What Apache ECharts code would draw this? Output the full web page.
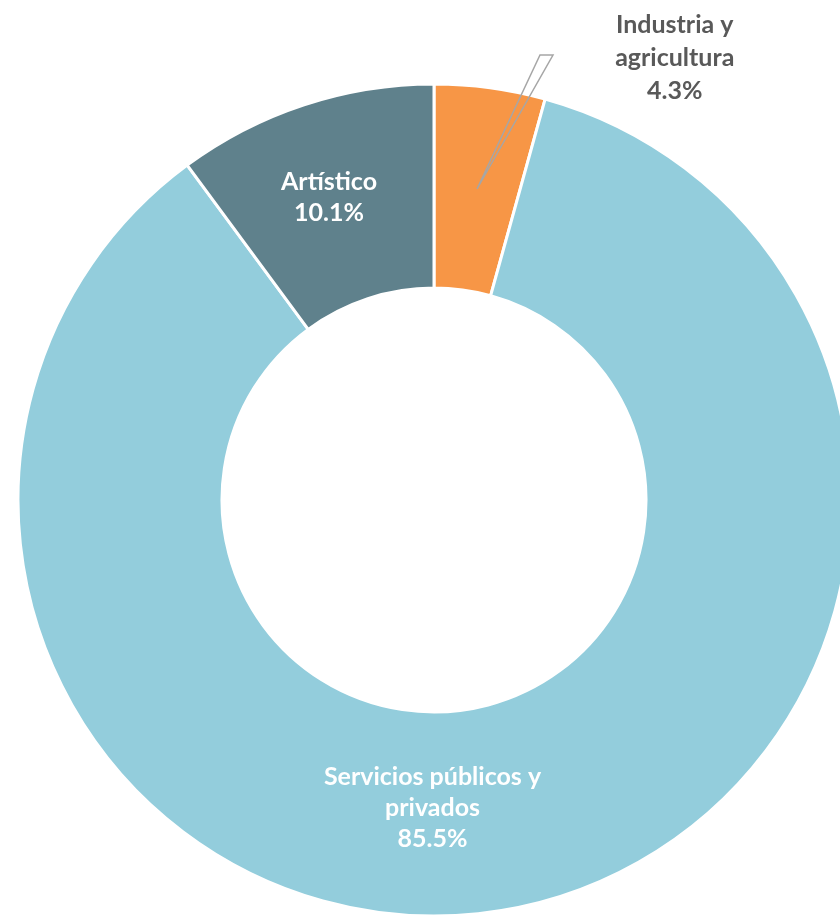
<!DOCTYPE html>
<html>
<head>
<meta charset="utf-8">
<script src="https://cdn.jsdelivr.net/npm/echarts@6/dist/echarts.min.js"></script>
<style>
  html, body { margin: 0; padding: 0; background: #fff; }
  #chart { width: 840px; height: 915px; }
</style>
</head>
<body>
<div id="chart"></div>
<script>
const categories = ['Industria y\nagricultura', 'Servicios públicos y\nprivados', 'Artístico'];
const shares = [4.3, 85.5, 10.1];
const sliceColors = ['#F79646', '#93CDDC', '#5F818C'];

const chart = echarts.init(document.getElementById('chart'), null, { renderer: 'canvas' });

// label tweaks per slice (Excel placed these by hand)
const labelTweaks = [
  { color: '#595959', offset: [198, -128], lineHeight: 33 },
  { color: '#ffffff', offset: [-59, -4] },
  { color: '#ffffff', offset: [-6, -1] },
];

const option = {
  animation: false,
  backgroundColor: '#fff',
  series: [{
    type: 'pie',
    center: [434, 500],
    radius: [212, 416],
    startAngle: 90,
    clockwise: true,
    silent: true,
    itemStyle: { borderColor: '#fff', borderWidth: 3 },
    label: {
      show: true,
      position: 'inside',
      fontFamily: 'Lato',
      fontWeight: 'bold',
      fontSize: 25,
      lineHeight: 31,
      align: 'center',
      formatter: p => p.name + '\n' + p.value.toFixed(1) + '%',
    },
    labelLine: { show: false },
    data: categories.map((name, i) => ({
      name,
      value: shares[i],
      itemStyle: { color: sliceColors[i] },
      label: labelTweaks[i],
    })),
  }],
  graphic: [{
    // callout pointer of the small slice
    type: 'polygon',
    shape: { points: [[477, 189], [540, 55], [553, 55]] },
    style: { fill: 'none', stroke: '#a6a6a6', lineWidth: 1.5 },
    z: 10,
  }],
};

chart.setOption(option);
</script>
</body>
</html>
